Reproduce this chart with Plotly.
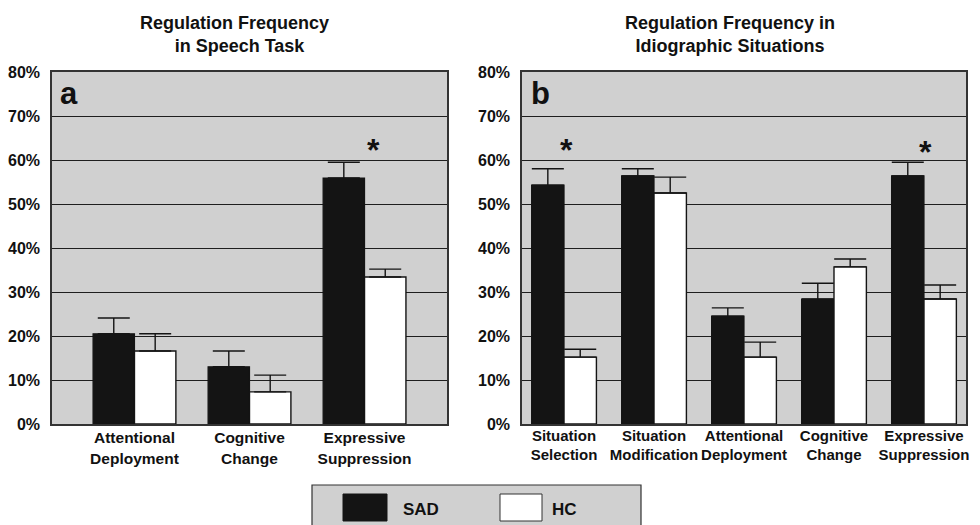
import plotly.graph_objects as go

# ---- data ----
cats_a = ["Attentional Deployment", "Cognitive Change", "Expressive Suppression"]
sad_a = [20.5, 13.0, 55.9]
sad_a_err = [3.6, 3.6, 3.6]
hc_a = [16.6, 7.3, 33.4]
hc_a_err = [3.9, 3.8, 1.8]

cats_b = ["Situation Selection", "Situation Modification", "Attentional Deployment",
          "Cognitive Change", "Expressive Suppression"]
sad_b = [54.3, 56.4, 24.5, 28.4, 56.4]
sad_b_err = [3.7, 1.6, 1.9, 3.6, 3.1]
hc_b = [15.2, 52.5, 15.2, 35.7, 28.4]
hc_b_err = [1.8, 3.6, 3.4, 1.8, 3.2]

y_ticks = [0, 10, 20, 30, 40, 50, 60, 70, 80]

# significance markers: (panel, category, y, pixel shift)
stars = [("a", "Expressive Suppression", 63.5, 9),
         ("b", "Situation Selection", 63.5, 2),
         ("b", "Expressive Suppression", 63.0, 2)]

FONT = "Liberation Sans, Arial, sans-serif"
BLACK = "#141414"
GRID = "#1e1e1e"
BG = "#d0d0d0"

fig = go.Figure()

def add_pair(cats, sad, sad_err, hc, hc_err, xa, ya):
    fig.add_trace(go.Bar(
        x=cats, y=sad, name="SAD", xaxis=xa, yaxis=ya,
        marker=dict(color=BLACK, line=dict(color=BLACK, width=1.2)),
        error_y=dict(type="data", array=sad_err, arrayminus=[0] * len(sad),
                     symmetric=False, color=BLACK, thickness=1.4, width=16),
        showlegend=False))
    fig.add_trace(go.Bar(
        x=cats, y=hc, name="HC", xaxis=xa, yaxis=ya,
        marker=dict(color="white", line=dict(color=BLACK, width=1.4)),
        error_y=dict(type="data", array=hc_err, arrayminus=[0] * len(hc),
                     symmetric=False, color=BLACK, thickness=1.4, width=16),
        showlegend=False))

add_pair(cats_a, sad_a, sad_a_err, hc_a, hc_a_err, "x", "y")
add_pair(cats_b, sad_b, sad_b_err, hc_b, hc_b_err, "x2", "y2")

def wrap(c):
    return "<b>" + c.replace(" ", "<br>", 1) + "</b>"

yax = dict(range=[0, 80], tickvals=y_ticks, ticktext=[f"<b>{v}%</b>" for v in y_ticks],
           showgrid=True, gridcolor=GRID, gridwidth=1.2, zeroline=False,
           showline=True, linecolor="#333", linewidth=1.5, mirror=True, automargin=False,
           ticks="", ticklabelstandoff=7, tickfont=dict(family=FONT, size=16, color="#111"),
           domain=[1 - 424 / 525, 1 - 72 / 525], fixedrange=True)
xcommon = dict(type="category", showline=True, linecolor="#333", linewidth=1.5, mirror=True,
               ticks="", showgrid=False, fixedrange=True, automargin=False, tickangle=0)

fig.update_layout(
    width=980, height=525,
    margin=dict(l=0, r=0, t=0, b=0, autoexpand=False),
    paper_bgcolor="white", plot_bgcolor=BG,
    barmode="group", bargroupgap=0,
    xaxis=dict(**xcommon, domain=[52 / 980, 447 / 980], range=[-0.717, 2.717],
               tickvals=cats_a, ticktext=[wrap(c) for c in cats_a], anchor="y",
               ticklabelstandoff=-1, tickfont=dict(family=FONT, size=15.5, color="#111")),
    yaxis=dict(**yax, anchor="x"),
    xaxis2=dict(**xcommon, domain=[522 / 980, 966 / 980], range=[-0.467, 4.467],
                tickvals=cats_b, ticktext=[wrap(c) for c in cats_b], anchor="y2",
                ticklabelstandoff=-3, tickfont=dict(family=FONT, size=15, color="#111")),
    yaxis2=dict(**yax, anchor="x2"),
    bargap=0.28,
)

ann = []
# titles
ann.append(dict(text="<b>Regulation Frequency<br>  in Speech Task</b>", xref="paper", yref="paper",
                x=234 / 980, y=1 - 35 / 525, xanchor="center", yanchor="middle",
                showarrow=False, align="center",
                font=dict(family=FONT, size=18, color="#111")))
ann.append(dict(text="<b>Regulation Frequency in<br>Idiographic Situations</b>", xref="paper", yref="paper",
                x=730 / 980, y=1 - 35 / 525, xanchor="center", yanchor="middle",
                showarrow=False, align="center",
                font=dict(family=FONT, size=18, color="#111")))
# panel letters
ann.append(dict(text="<b>a</b>", xref="paper", yref="paper", x=58 / 980, y=1 - 94 / 525,
                xanchor="left", yanchor="middle", showarrow=False,
                font=dict(family=FONT, size=31, color="#111")))
ann.append(dict(text="<b>b</b>", xref="paper", yref="paper", x=529 / 980, y=1 - 94 / 525,
                xanchor="left", yanchor="middle", showarrow=False,
                font=dict(family=FONT, size=31, color="#111")))
# stars
for panel, cat, yv, xs in stars:
    ax = "x" if panel == "a" else "x2"
    ay = "y" if panel == "a" else "y2"
    ann.append(dict(text="<b>*</b>", xref=ax, yref=ay, x=cat, y=yv, xshift=xs, yshift=-5,
                    yanchor="middle", showarrow=False, font=dict(family=FONT, size=32, color="#111")))
# legend labels
ann.append(dict(text="<b>SAD</b>", xref="paper", yref="paper", x=401 / 980, y=1 - 509 / 525,
                xanchor="left", yanchor="middle", showarrow=False,
                font=dict(family=FONT, size=17, color="#111")))
ann.append(dict(text="<b>HC</b>", xref="paper", yref="paper", x=550 / 980, y=1 - 509 / 525,
                xanchor="left", yanchor="middle", showarrow=False,
                font=dict(family=FONT, size=17, color="#111")))
fig.update_layout(annotations=ann)

shapes = [
    dict(type="rect", xref="paper", yref="paper", x0=312 / 980, x1=641 / 980,
         y0=-0.05, y1=1 - 485 / 525, fillcolor=BG, line=dict(color="#333", width=1.2)),
    dict(type="rect", xref="paper", yref="paper", x0=343 / 980, x1=387 / 980,
         y0=1 - 521 / 525, y1=1 - 494 / 525, fillcolor=BLACK, line=dict(color=BLACK, width=1)),
    dict(type="rect", xref="paper", yref="paper", x0=500 / 980, x1=542 / 980,
         y0=1 - 521 / 525, y1=1 - 494 / 525, fillcolor="white", line=dict(color="#333", width=1)),
]
fig.update_layout(shapes=shapes)

fig.write_html("out.html", config={"displayModeBar": False},
               post_script="document.body.style.margin='0';document.body.style.overflow='hidden';")
